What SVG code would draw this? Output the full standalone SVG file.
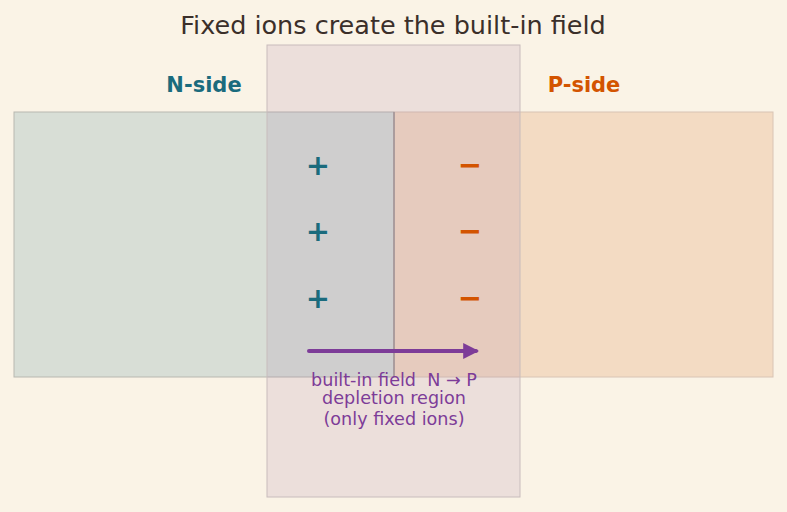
<svg xmlns="http://www.w3.org/2000/svg" width="787" height="512" viewBox="0 0 787 512">
<defs>
<style>
text{font-family:"DejaVu Sans","Noto Sans",sans-serif;text-anchor:middle}
.title{font-size:25.5px;fill:#3b2f2a}
.side{font-size:21px;font-weight:bold}
.ion{font-size:29px;font-weight:bold}
.lbl{font-size:17.6px;fill:#7d3c98;white-space:pre}
.n{fill:#1a6b7d}
.p{fill:#d35400}
</style>
<marker id="ah" viewBox="0 0 10 10" refX="8" refY="5" markerWidth="4" markerHeight="4" orient="auto" markerUnits="strokeWidth">
<path d="M0,0 L10,5 L0,10 Z" fill="#7d3c98"/>
</marker>
</defs>
<rect width="787" height="512" fill="#faf3e6"/>
<text class="title" x="393" y="34">Fixed ions create the built-in field</text>
<g id="n-side">
<rect x="14" y="112" width="380" height="265" fill="#1a6b7d" fill-opacity="0.15" stroke="#b8b8b0" stroke-width="1"/>
<text class="side n" x="204" y="92">N-side</text>
</g>
<g id="p-side">
<rect x="394" y="112" width="379" height="265" fill="#d35400" fill-opacity="0.15" stroke="#d8c4b4" stroke-width="1"/>
<text class="side p" x="584" y="92">P-side</text>
</g>
<line x1="394" y1="112" x2="394" y2="377" stroke="#a09a96" stroke-width="1.5"/>
<g id="depletion">
<rect x="267" y="45" width="253" height="452" fill="#a374a3" fill-opacity="0.15" stroke="#c8bcbc" stroke-width="1"/>
</g>
<g id="ions">
<text class="ion n" x="318" y="175">+</text>
<text class="ion n" x="318" y="241">+</text>
<text class="ion n" x="318" y="308">+</text>
<text class="ion p" x="470" y="175">−</text>
<text class="ion p" x="470" y="241">−</text>
<text class="ion p" x="470" y="308">−</text>
</g>
<g id="connectors">
<line x1="309" y1="351" x2="476" y2="351" stroke="#7d3c98" stroke-width="4" stroke-linecap="round" marker-end="url(#ah)"/>
</g>
<g id="labels">
<text class="lbl" x="394" y="386" xml:space="preserve">built-in field  N → P</text>
<text class="lbl" x="394" y="404">depletion region</text>
<text class="lbl" x="394" y="425">(only fixed ions)</text>
</g>
</svg>
